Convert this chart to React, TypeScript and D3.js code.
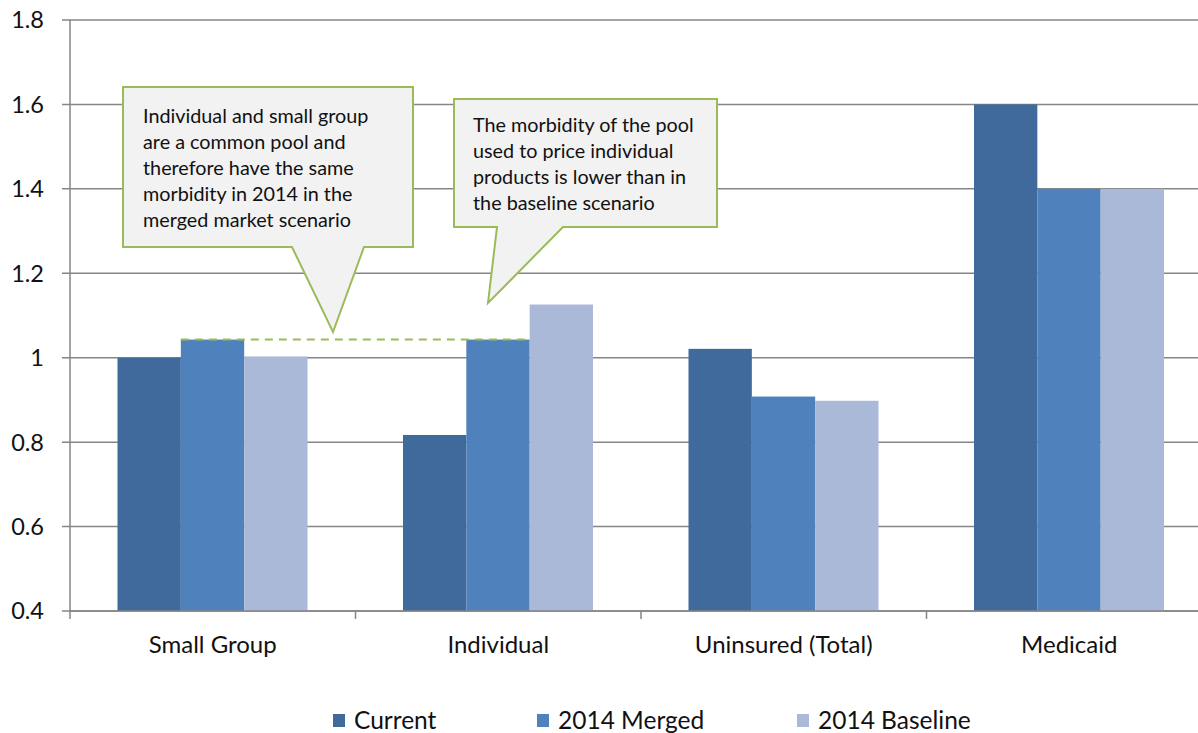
import React, { useEffect, useRef } from 'react'
import * as d3 from 'd3'

const categories = ['Small Group', 'Individual', 'Uninsured (Total)', 'Medicaid']
const seriesNames = ['Current', '2014 Merged', '2014 Baseline']
const current = [1.0, 0.817, 1.021, 1.6]
const merged = [1.043, 1.043, 0.908, 1.4]
const baseline = [1.003, 1.126, 0.898, 1.4]
const yTicks = [0.4, 0.6, 0.8, 1, 1.2, 1.4, 1.6, 1.8]
const colors = ['#40699C', '#4F81BD', '#AAB9D7']

const note1 = ['Individual and small group', 'are a common pool and', 'therefore have the same', 'morbidity in 2014 in the', 'merged market scenario']
const note2 = ['The morbidity of the pool', 'used to price individual', 'products is lower than in', 'the baseline scenario']

const FONT = 'Lato, "Liberation Sans", sans-serif'

export default function App() {
  const ref = useRef<SVGSVGElement>(null)

  useEffect(() => {
    const svg = d3.select(ref.current)
    svg.selectAll('*').remove()

    const left = 70, right = 1212, top = 20, bottom = 611

    const x = d3.scaleBand().domain(categories).range([left, right]).padding(0)
    const xs = d3.scaleBand().domain(seriesNames).range([47.5, 237.5]).padding(0)
    const y = d3.scaleLinear().domain([0.4, 1.8]).range([bottom, top])

    // gridlines + y ticks
    svg.append('g').selectAll('line')
      .data(yTicks)
      .enter().append('line')
      .attr('x1', left - 8).attr('x2', 1198)
      .attr('y1', d => y(d)).attr('y2', d => y(d))
      .attr('stroke', '#868686').attr('stroke-width', 1.5)

    svg.append('g').selectAll('text')
      .data(yTicks)
      .enter().append('text')
      .attr('x', 44).attr('y', d => y(d))
      .attr('dy', '0.36em')
      .attr('text-anchor', 'end')
      .style('font-family', FONT).style('font-size', '23.5px').attr('fill', '#111')
      .text(d => String(d))

    // bars
    const rows = seriesNames.map((s, i) => ({ s, vals: [current, merged, baseline][i], color: colors[i] }))
    rows.forEach(r => {
      svg.append('g').selectAll('rect')
        .data(categories)
        .enter().append('rect')
        .attr('x', c => x(c)! + xs(r.s)!)
        .attr('width', xs.bandwidth())
        .attr('y', (c, i) => y(r.vals[i]))
        .attr('height', (c, i) => bottom - y(r.vals[i]))
        .attr('fill', r.color)
    })

    // axes lines
    svg.append('line')
      .attr('x1', left).attr('x2', left).attr('y1', top).attr('y2', bottom)
      .attr('stroke', '#868686').attr('stroke-width', 1.5)
    svg.append('line')
      .attr('x1', left).attr('x2', 1198).attr('y1', bottom).attr('y2', bottom)
      .attr('stroke', '#868686').attr('stroke-width', 1.5)
    svg.append('g').selectAll('line')
      .data(categories)
      .enter().append('line')
      .attr('x1', c => x(c)!).attr('x2', c => x(c)!)
      .attr('y1', bottom).attr('y2', bottom + 8)
      .attr('stroke', '#868686').attr('stroke-width', 1.5)

    svg.append('g').selectAll('text')
      .data(categories)
      .enter().append('text')
      .attr('x', c => x(c)! + x.bandwidth() / 2)
      .attr('y', 653)
      .attr('text-anchor', 'middle')
      .style('font-family', FONT).style('font-size', '24px').attr('fill', '#111')
      .text(c => c)

    // dashed line connecting merged values
    svg.append('line')
      .attr('x1', x('Small Group')! + xs('2014 Merged')!)
      .attr('x2', x('Individual')! + xs('2014 Merged')! + xs.bandwidth())
      .attr('y1', y(merged[0])).attr('y2', y(merged[1]))
      .attr('stroke', '#9BBB59').attr('stroke-width', 2)
      .attr('stroke-dasharray', '8,6')

    // callouts
    const callout = (pts: [number, number][], lines: string[], tx: number, ty: number) => {
      svg.append('path')
        .attr('d', d3.line()(pts)! + 'Z')
        .attr('fill', '#F2F2F2').attr('stroke', '#9BBB59').attr('stroke-width', 2)
      const t = svg.append('text')
        .style('font-family', FONT).style('font-size', '19.8px').attr('fill', '#111')
      lines.forEach((l, i) => {
        t.append('tspan').attr('x', tx).attr('y', ty + i * 26).text(l)
      })
    }
    callout([[123, 87], [413, 87], [413, 247], [364, 247], [333, 332], [292, 247], [123, 247]], note1, 143, 123)
    callout([[454, 99], [717, 99], [717, 227], [563, 227], [488, 303], [497, 227], [454, 227]], note2, 473, 132)

    // legend
    const lx = [333, 537, 797]
    seriesNames.forEach((s, i) => {
      svg.append('rect').attr('x', lx[i]).attr('y', 714).attr('width', 12).attr('height', 13).attr('fill', colors[i])
      svg.append('text').attr('x', lx[i] + 21).attr('y', 729)
        .style('font-family', FONT).style('font-size', '24.5px').attr('fill', '#111')
        .text(s)
    })
  }, [])

  return (
    <svg ref={ref} width={1198} height={733}
      style={{ position: 'absolute', left: 0, top: 0, background: '#fff' }} />
  )
}
